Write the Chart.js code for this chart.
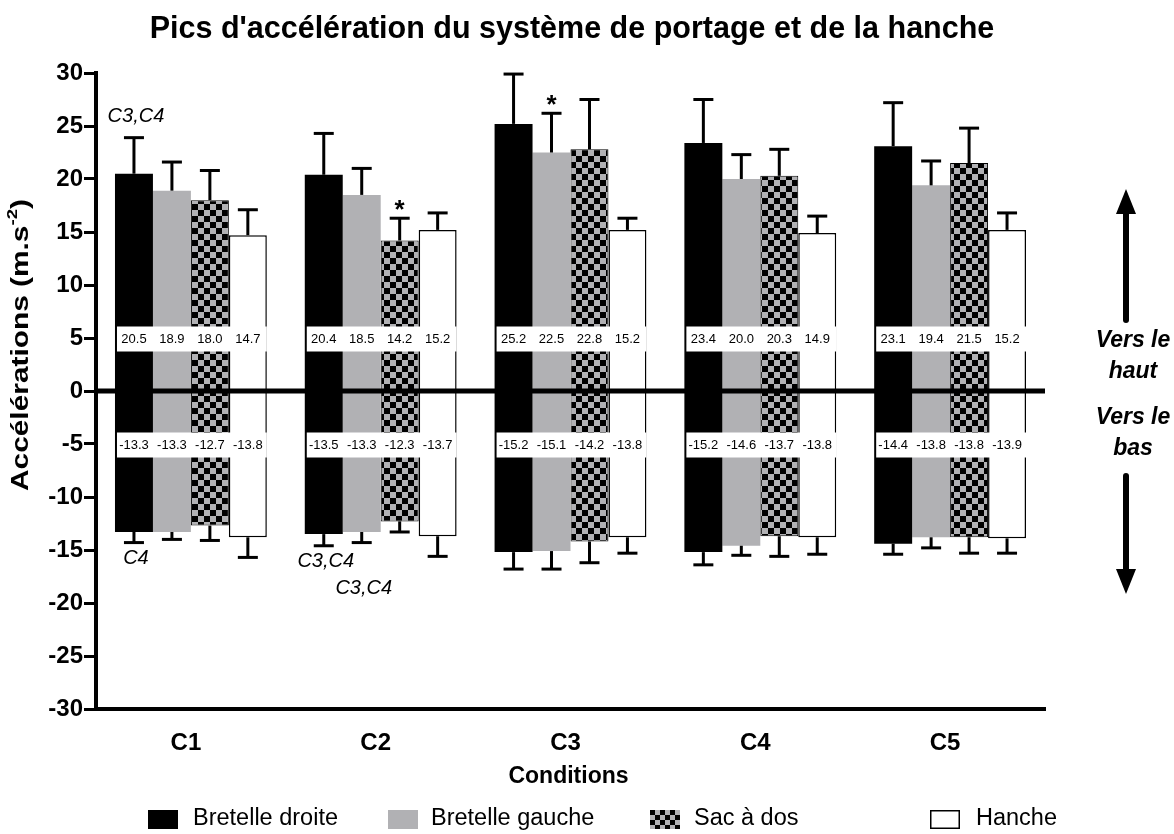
<!DOCTYPE html>
<html><head><meta charset="utf-8">
<script src="https://cdn.jsdelivr.net/npm/chart.js@4.4.1/dist/chart.umd.min.js"></script>
<style>html,body{margin:0;padding:0;background:#fff;overflow:hidden}canvas{display:block}</style>
</head><body>
<canvas id="c" width="1174" height="834"></canvas>
<script>
// ---------- data ----------
const categories = ['C1', 'C2', 'C3', 'C4', 'C5'];
const seriesNames = ['Bretelle droite', 'Bretelle gauche', 'Sac à dos', 'Hanche'];

const upBretelleDroite = [20.5, 20.4, 25.2, 23.4, 23.1];
const upBretelleGauche = [18.9, 18.5, 22.5, 20.0, 19.4];
const upSacADos        = [18.0, 14.2, 22.8, 20.3, 21.5];
const upHanche         = [14.7, 15.2, 15.2, 14.9, 15.2];

const downBretelleDroite = [-13.3, -13.5, -15.2, -15.2, -14.4];
const downBretelleGauche = [-13.3, -13.3, -15.1, -14.6, -13.8];
const downSacADos        = [-12.7, -12.3, -14.2, -13.7, -13.8];
const downHanche         = [-13.8, -13.7, -13.8, -13.8, -13.9];

// error-bar ends (mean ± SD)
const errUpBretelleDroite = [23.9, 24.3, 29.9, 27.5, 27.2];
const errUpBretelleGauche = [21.6, 21.0, 26.2, 22.3, 21.7];
const errUpSacADos        = [20.8, 16.3, 27.5, 22.8, 24.8];
const errUpHanche         = [17.1, 16.8, 16.3, 16.5, 16.8];

const errDownBretelleDroite = [-14.3, -14.6, -16.8, -16.4, -15.4];
const errDownBretelleGauche = [-14.0, -14.3, -16.8, -15.5, -14.8];
const errDownSacADos        = [-14.1, -13.3, -16.2, -15.6, -15.3];
const errDownHanche         = [-15.7, -15.6, -15.3, -15.4, -15.3];

const yTickValues = [30, 25, 20, 15, 10, 5, 0, -5, -10, -15, -20, -25, -30];

// significance annotations
const noteTexts    = ['C3,C4', '*', '*', 'C4', 'C3,C4', 'C3,C4'];
const noteCategory = [0, 1, 2, 0, 1, 1];
const noteSeries   = [0, 2, 1, 0, 0, 1];
const noteSide     = ['up', 'up', 'up', 'down', 'down', 'down'];
const noteRow      = [0, 0, 0, 0, 0, 1];

// ---------- styles ----------
const GREY = '#b1b1b4';
const FONT = '"Liberation Sans", Arial, Helvetica, sans-serif';
const canvas = document.getElementById('c');
const ctx0 = canvas.getContext('2d');
function makeChecker(cell) {
  const c = document.createElement('canvas');
  c.width = c.height = cell * 2;
  const g = c.getContext('2d');
  g.fillStyle = GREY; g.fillRect(0, 0, cell * 2, cell * 2);
  g.fillStyle = '#000'; g.fillRect(0, 0, cell, cell); g.fillRect(cell, cell, cell, cell);
  return ctx0.createPattern(c, 'repeat');
}
const checker = makeChecker(6);
const checkerSmall = makeChecker(5);
const seriesStyle = [
  { bg: '#000', border: '#000', bw: 0 },
  { bg: GREY, border: GREY, bw: 0 },
  { bg: checker, border: '#000', bw: 1 },
  { bg: '#fff', border: '#000', bw: 1.5 }
];
const upSeries = [upBretelleDroite, upBretelleGauche, upSacADos, upHanche];
const downSeries = [downBretelleDroite, downBretelleGauche, downSacADos, downHanche];
const errUp = [errUpBretelleDroite, errUpBretelleGauche, errUpSacADos, errUpHanche];
const errDown = [errDownBretelleDroite, errDownBretelleGauche, errDownSacADos, errDownHanche];

const datasets = [];
for (let i = 0; i < 4; i++) {
  const st = seriesStyle[i];
  [upSeries[i], downSeries[i]].forEach(d => datasets.push({
    label: seriesNames[i], data: d, stack: 's' + i,
    backgroundColor: st.bg, borderColor: st.border, borderWidth: st.bw,
    borderSkipped: 'start', categoryPercentage: 0.8, barPercentage: 1.0
  }));
}

const drawPlugin = {
  id: 'extras',
  afterDatasetsDraw(chart) {
    const { ctx, scales: { y }, chartArea } = chart;
    ctx.save();
    // error bars
    ctx.strokeStyle = '#000'; ctx.lineWidth = 3; ctx.lineCap = 'butt';
    for (let i = 0; i < 4; i++) {
      const mu = chart.getDatasetMeta(2 * i), md = chart.getDatasetMeta(2 * i + 1);
      for (let j = 0; j < categories.length; j++) {
        [[mu.data[j], upSeries[i][j], errUp[i][j]], [md.data[j], downSeries[i][j], errDown[i][j]]].forEach(([bar, v, e]) => {
          const x = bar.x, y0 = y.getPixelForValue(v), y1 = y.getPixelForValue(e);
          ctx.beginPath(); ctx.moveTo(x, y0); ctx.lineTo(x, y1); ctx.stroke();
          ctx.beginPath(); ctx.moveTo(x - 10, y1); ctx.lineTo(x + 10, y1); ctx.stroke();
        });
      }
    }
    // value label boxes
    ctx.font = '13px ' + FONT; ctx.textAlign = 'center'; ctx.textBaseline = 'middle';
    for (let j = 0; j < categories.length; j++) {
      [[0, 5, upSeries], [1, -5, downSeries]].forEach(([k, v, src]) => {
        const first = chart.getDatasetMeta(k).data[j], last = chart.getDatasetMeta(6 + k).data[j];
        const left = first.x - first.width / 2 + 2, right = last.x + last.width / 2;
        const cy = y.getPixelForValue(v) + 1;
        ctx.fillStyle = '#fff'; ctx.fillRect(left, cy - 12.5, right - left, 25);
        ctx.fillStyle = '#000';
        for (let i = 0; i < 4; i++) {
          const b = chart.getDatasetMeta(2 * i + k).data[j];
          ctx.fillText(src[i][j].toFixed(1), b.x, cy);
        }
      });
    }
    // zero line
    const yz = y.getPixelForValue(0);
    ctx.lineWidth = 5;
    ctx.beginPath(); ctx.moveTo(chartArea.left, yz); ctx.lineTo(chartArea.right, yz); ctx.stroke();
    // annotations
    for (let n = 0; n < noteTexts.length; n++) {
      const i = noteSeries[n], j = noteCategory[n];
      const up = noteSide[n] === 'up';
      const bar = chart.getDatasetMeta(2 * i + (up ? 0 : 1)).data[j];
      const ye = y.getPixelForValue(up ? errUp[i][j] : errDown[i][j]);
      ctx.fillStyle = '#000'; ctx.textAlign = 'center'; ctx.textBaseline = 'middle';
      if (noteTexts[n] === '*') {
        ctx.font = 'bold 26px ' + FONT;
        ctx.fillText('*', bar.x, ye - 7);
      } else {
        ctx.font = 'italic 20px ' + FONT;
        const yy = up ? ye - 21 : ye + 16 + noteRow[n] * 30;
        ctx.fillText(noteTexts[n], bar.x + 2, yy);
      }
    }
    ctx.restore();
  },
  afterDraw(chart) {
    const { ctx, chartArea } = chart;
    ctx.save();
    ctx.fillStyle = '#000';
    // title
    ctx.font = 'bold 30.5px ' + FONT; ctx.textAlign = 'center'; ctx.textBaseline = 'middle';
    ctx.fillText("Pics d'accélération du système de portage et de la hanche", 572, 30);
    // x title
    ctx.font = 'bold 23px ' + FONT;
    ctx.fillText('Conditions', (chartArea.left + chartArea.right) / 2 - 2, 777);
    // y title with superscript (stretched along its length like the reference)
    ctx.save();
    ctx.translate(21, 345); ctx.rotate(-Math.PI / 2);
    const main = 'Accélérations (m.s', sup = '-2', tail = ')';
    ctx.font = 'bold 24px ' + FONT; const wm = ctx.measureText(main).width, wt = ctx.measureText(tail).width;
    ctx.font = 'bold 15px ' + FONT; const ws = ctx.measureText(sup).width;
    const total = wm + ws + wt;
    ctx.scale(292 / total, 1);
    let x0 = -total / 2;
    ctx.textAlign = 'left';
    ctx.font = 'bold 24px ' + FONT; ctx.fillText(main, x0, 0);
    ctx.font = 'bold 15px ' + FONT; ctx.fillText(sup, x0 + wm, -8);
    ctx.font = 'bold 24px ' + FONT; ctx.fillText(tail, x0 + wm + ws, 0);
    ctx.restore();
    // side texts
    ctx.font = 'italic bold 23px ' + FONT; ctx.textAlign = 'center';
    ctx.fillText('Vers le', 1133, 341);
    ctx.fillText('haut', 1133, 372);
    ctx.fillText('Vers le', 1133, 418);
    ctx.fillText('bas', 1133, 449);
    // arrows
    const ax = 1126;
    ctx.strokeStyle = '#000'; ctx.lineWidth = 6; ctx.lineCap = 'round';
    ctx.beginPath(); ctx.moveTo(ax, 320); ctx.lineTo(ax, 212); ctx.stroke();
    ctx.beginPath(); ctx.moveTo(ax, 476); ctx.lineTo(ax, 572); ctx.stroke();
    ctx.beginPath(); ctx.moveTo(ax, 189); ctx.lineTo(ax - 10, 214); ctx.lineTo(ax + 10, 214); ctx.closePath(); ctx.fill();
    ctx.beginPath(); ctx.moveTo(ax, 594); ctx.lineTo(ax - 10, 569); ctx.lineTo(ax + 10, 569); ctx.closePath(); ctx.fill();
    // legend
    const lx = [148, 388, 650, 930], ltx = [193, 431, 694, 976], ly = 819;
    ctx.font = '23.5px ' + FONT; ctx.textAlign = 'left'; ctx.textBaseline = 'middle';
    const legendFill = ['#000', GREY, checkerSmall, '#fff'];
    for (let i = 0; i < 4; i++) {
      ctx.fillStyle = legendFill[i]; ctx.fillRect(lx[i], ly - 9, 30, 19);
      if (i === 3) { ctx.strokeStyle = '#000'; ctx.lineWidth = 1.5; ctx.strokeRect(lx[i] + 0.75, ly - 8.25, 28.5, 17.5); }
      ctx.fillStyle = '#000'; ctx.fillText(seriesNames[i], ltx[i], ly);
    }
    ctx.restore();
  }
};

new Chart(canvas, {
  type: 'bar',
  data: { labels: categories, datasets },
  options: {
    responsive: false, animation: false,
    layout: { padding: { left: 0, top: 73, right: 129, bottom: 0 } },
    plugins: { legend: { display: false }, tooltip: { enabled: false }, title: { display: false } },
    scales: {
      x: {
        grid: { display: true, drawOnChartArea: false, drawTicks: false },
        border: { display: true, color: '#000', width: 4 },
        ticks: { color: '#000', font: { family: FONT, size: 24, weight: 'bold' }, padding: 20, labelOffset: -5 },
        afterFit(s) { s.height = 125; }
      },
      y: {
        stacked: true, min: -30, max: 30,
        afterBuildTicks(s) { s.ticks = yTickValues.map(v => ({ value: v })); },
        grid: { drawOnChartArea: false, drawTicks: true, tickLength: 12, tickWidth: 3, tickColor: '#000' },
        border: { display: true, color: '#000', width: 4 },
        ticks: { color: '#000', font: { family: FONT, size: 24, weight: 'bold' }, padding: 1 },
        afterFit(s) { s.width = 96; }
      }
    }
  },
  plugins: [drawPlugin]
});
</script>
</body></html>
